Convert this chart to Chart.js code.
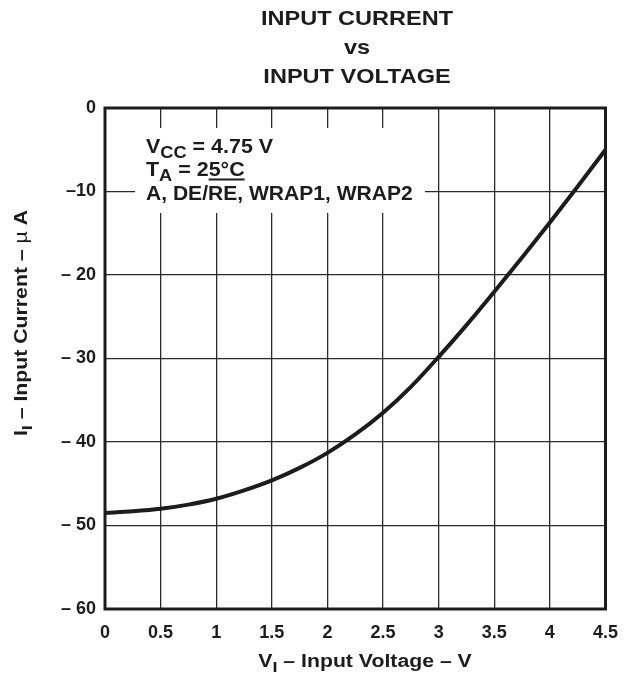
<!DOCTYPE html>
<html>
<head>
<meta charset="utf-8">
<title>Input Current vs Input Voltage</title>
<script src="https://cdn.jsdelivr.net/npm/chart.js@4.4.0/dist/chart.umd.min.js"></script>
<style>
    html, body { margin: 0; padding: 0; background: #fff; }
    #wrap { width: 631px; height: 681px; position: relative; }
</style>
</head>
<body>
<div id="wrap"><canvas id="ivChart"></canvas></div>
<script>
// data
const voltage = [0, 0.25, 0.5, 0.75, 1, 1.25, 1.5, 1.75, 2, 2.25, 2.5, 2.75, 3, 3.25, 3.5, 3.75, 4, 4.25, 4.5];
const current = [-48.5, -48.3, -48.0, -47.5, -46.8, -45.8, -44.6, -43.1, -41.3, -39.1, -36.5, -33.4, -29.8, -26.0, -22.0, -17.9, -13.7, -9.4, -5.0];

const xTickValues = [0, 0.5, 1, 1.5, 2, 2.5, 3, 3.5, 4, 4.5];
const xTickLabels = ["0", "0.5", "1", "1.5", "2", "2.5", "3", "3.5", "4", "4.5"];
const yTickValues = [0, -10, -20, -30, -40, -50, -60];
const yTickLabels = ["0", "\u201310", "\u2013 20", "\u2013 30", "\u2013 40", "\u2013 50", "\u2013 60"];

const titleLines = ["INPUT CURRENT", "vs", "INPUT VOLTAGE"];

const FONT = "'Liberation Sans', Arial, Helvetica, sans-serif";
const INK = "#1c1c1c";

// draws a list of text runs, some of them subscripted, with a horizontal stretch
function drawRuns(ctx, runs, x, y, size, align, sx) {
    ctx.save();
    ctx.translate(x, y);
    ctx.scale(sx, 1);
    ctx.textBaseline = "alphabetic";
    ctx.textAlign = "left";
    let total = 0;
    const widths = runs.map(function (r) {
        const s = r.sub ? size * 0.85 : size;
        ctx.font = (r.normal ? "" : "bold ") + s + "px " + FONT;
        const w = ctx.measureText(r.t).width;
        total += w;
        return w;
    });
    let cx = align === "center" ? -total / 2 : 0;
    const pos = [];
    runs.forEach(function (r, i) {
        const s = r.sub ? size * 0.85 : size;
        ctx.font = (r.normal ? "" : "bold ") + s + "px " + FONT;
        ctx.fillStyle = INK;
        ctx.fillText(r.t, cx, r.sub ? size * 0.28 : 0);
        pos.push({ start: x + cx * sx, end: x + (cx + widths[i]) * sx });
        cx += widths[i];
    });
    ctx.restore();
    return pos;
}

const frameAndText = {
    id: "frameAndText",
    beforeDatasetsDraw: function (chart) {
        const ctx = chart.ctx;
        // white box behind the conditions note
        ctx.save();
        ctx.fillStyle = "#fff";
        ctx.fillRect(135, 128, 290, 85);
        ctx.restore();

        drawRuns(ctx, [{ t: "V" }, { t: "CC", sub: true }, { t: " = 4.75 V" }], 146, 153, 19.5, "left", 1.1);
        const p = drawRuns(ctx, [{ t: "T" }, { t: "A", sub: true }, { t: " = 2" }, { t: "5\u00b0C" }], 146, 176, 19.5, "left", 1.1);
        ctx.save();
        ctx.strokeStyle = INK;
        ctx.lineWidth = 2;
        ctx.beginPath();
        ctx.moveTo(p[3].start, 179.5);
        ctx.lineTo(p[3].end, 179.5);
        ctx.stroke();
        ctx.restore();
        drawRuns(ctx, [{ t: "A, DE/RE, WRAP1, WRAP2" }], 146, 200, 19.5, "left", 1.08);
    },
    afterDatasetsDraw: function (chart) {
        const ctx = chart.ctx;
        const a = chart.chartArea;
        ctx.save();
        ctx.strokeStyle = INK;
        ctx.lineWidth = 3;
        ctx.strokeRect(a.left, a.top, a.right - a.left, a.bottom - a.top);
        ctx.restore();
    },
    afterDraw: function (chart) {
        const ctx = chart.ctx;
        const baselines = [25, 54, 83];
        titleLines.forEach(function (line, i) {
            drawRuns(ctx, [{ t: line }], 357, baselines[i], 21, "center", 1.12);
        });

        drawRuns(ctx, [{ t: "V" }, { t: "I", sub: true }, { t: " \u2013 Input Voltage \u2013 V" }], 365, 667, 18, "center", 1.18);

        ctx.save();
        ctx.translate(27, 323);
        ctx.rotate(-Math.PI / 2);
        drawRuns(ctx, [{ t: "I" }, { t: "I", sub: true }, { t: " \u2013 Input Current \u2013 " }, { t: "\u00b5", normal: true }, { t: " A" }], 0, 0, 18, "center", 1.18);
        ctx.restore();
    }
};

const ctx = document.getElementById("ivChart").getContext("2d");
const ivChart = new Chart(ctx, {
    type: "line",
    data: {
        datasets: [
            {
                data: voltage.map(function (v, i) { return { x: v, y: current[i] }; }),
                borderColor: INK,
                borderWidth: 4,
                pointRadius: 0,
                fill: false,
                cubicInterpolationMode: "monotone",
            },
        ],
    },
    options: {
        responsive: true,
        maintainAspectRatio: false,
        animation: false,
        layout: {
            padding: { top: 108, right: 20, bottom: 0, left: 0 },
        },
        plugins: {
            legend: { display: false },
            tooltip: { enabled: false },
        },
        scales: {
            x: {
                type: "linear",
                min: 0,
                max: 4.5,
                afterFit: function (scale) { scale.height = 72; },
                afterBuildTicks: function (scale) {
                    scale.ticks = xTickValues.map(function (v) { return { value: v }; });
                },
                grid: { color: "#2a2a2a", lineWidth: 1.3, drawTicks: false },
                border: { display: false },
                ticks: {
                    padding: 13,
                    color: INK,
                    font: { family: FONT, size: 18, weight: "bold" },
                    maxRotation: 0,
                    callback: function (value) {
                        const i = xTickValues.indexOf(value);
                        return i >= 0 ? xTickLabels[i] : "";
                    },
                },
            },
            y: {
                type: "linear",
                min: -60,
                max: 0,
                afterFit: function (scale) { scale.width = 105; },
                afterBuildTicks: function (scale) {
                    scale.ticks = yTickValues.map(function (v) { return { value: v }; });
                },
                grid: { color: "#2a2a2a", lineWidth: 1.3, drawTicks: false },
                border: { display: false },
                ticks: {
                    padding: 9,
                    color: INK,
                    font: { family: FONT, size: 18, weight: "bold" },
                    callback: function (value) {
                        const i = yTickValues.indexOf(value);
                        return i >= 0 ? yTickLabels[i] : "";
                    },
                },
            },
        },
    },
    plugins: [frameAndText],
});
</script>
</body>
</html>
